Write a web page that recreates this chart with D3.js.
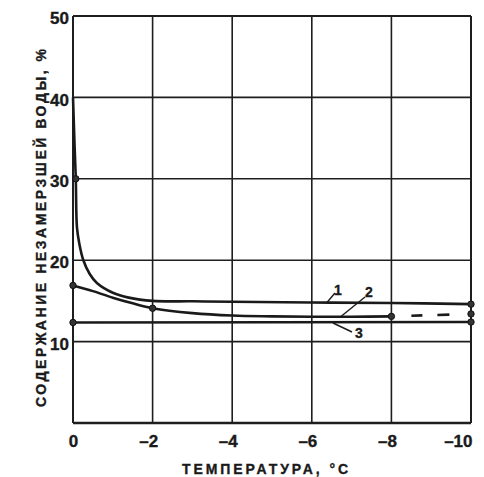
<!DOCTYPE html>
<html>
<head>
<meta charset="utf-8">
<script src="https://cdn.jsdelivr.net/npm/d3@7"></script>
<style>
  html, body { margin: 0; padding: 0; background: #fff; }
  svg { display: block; }
  text { font-family: "Liberation Sans", Arial, "DejaVu Sans", sans-serif; font-weight: bold; fill: #1a1a1a; stroke: #1a1a1a; stroke-width: 0.35px; }
</style>
</head>
<body>
<svg id="chart" width="484" height="477"></svg>
<script>
// Temperature ticks (°C) and water-content ticks (%)
const xTicks = [0, -2, -4, -6, -8, -10];
const yTicks = [10, 20, 30, 40, 50];

// Curve 1
const temp1  = [0, -0.04, -0.07, -0.1, -0.16, -0.26, -0.42, -0.6, -1.0, -1.4, -2, -3, -4, -6, -8, -10];
const water1 = [40, 34, 30, 24, 22, 20, 18.3, 17.2, 16.0, 15.4, 15.0, 14.95, 14.9, 14.8, 14.75, 14.6];
const marks1 = [[-0.07, 30], [-10, 14.6]];

// Curve 2 (solid part, then dashed extension)
const temp2  = [0, -0.5, -1, -1.5, -2, -3, -4, -5, -6, -7, -8];
const water2 = [16.9, 16.2, 15.4, 14.7, 14.1, 13.5, 13.2, 13.1, 13.05, 13.05, 13.1];
const temp2b  = [-8, -10];
const water2b = [13.1, 13.4];
const marks2 = [[0, 16.9], [-2, 14.1], [-8, 13.1], [-10, 13.4]];

// Curve 3
const temp3  = [0, -10];
const water3 = [12.35, 12.4];
const marks3 = [[0, 12.35], [-10, 12.4]];

const svg = d3.select("#chart");
const x = d3.scaleLinear().domain([0, -10]).range([73, 471]);
const y = d3.scaleLinear().domain([0, 50]).range([423, 16]);

// grid
const g = svg.append("g");
g.selectAll("line.v").data(xTicks).join("line")
  .attr("x1", d => x(d)).attr("x2", d => x(d))
  .attr("y1", y(50)).attr("y2", y(0))
  .attr("stroke", "#1e1e1e").attr("stroke-width", d => (d === 0 || d === -10) ? 2 : 1.6);
g.selectAll("line.h").data([0].concat(yTicks)).join("line")
  .attr("x1", x(0)).attr("x2", x(-10))
  .attr("y1", d => y(d)).attr("y2", d => y(d))
  .attr("stroke", "#1e1e1e").attr("stroke-width", d => (d === 0) ? 2.4 : (d === 50 ? 2 : 1.6));

// axes labels via d3 axes (domain/ticks hidden, labels kept)
const yAxis = d3.axisLeft(y).tickValues(yTicks).tickSize(0).tickPadding(0);
svg.append("g").attr("transform", `translate(${x(0) - 4},0)`).call(yAxis)
  .call(a => a.select(".domain").remove())
  .selectAll("text")
  .attr("font-size", 17).attr("font-family", null).attr("dy", "0.45em");

const xAxis = d3.axisBottom(x).tickValues(xTicks).tickSize(0).tickPadding(0)
  .tickFormat(d => d === 0 ? "0" : "\u2013" + Math.abs(d));
svg.append("g").attr("transform", `translate(0,${447})`).call(xAxis)
  .call(a => a.select(".domain").remove())
  .selectAll("text")
  .attr("font-size", 17).attr("font-family", null).attr("dy", 0)
  .attr("text-anchor", d => d === 0 ? "middle" : "end")
  .attr("dx", d => d === 0 ? 0 : (d === -10 ? 1 : 5));
svg.selectAll(".tick text").attr("fill", "#1a1a1a");

// titles
svg.append("text")
  .attr("x", 265).attr("y", 474)
  .attr("text-anchor", "middle")
  .attr("font-size", 14)
  .attr("textLength", 166).attr("lengthAdjust", "spacing")
  .text("ТЕМПЕРАТУРА, °C");

svg.append("text")
  .attr("transform", "translate(46,228) rotate(-90)")
  .attr("text-anchor", "middle")
  .attr("font-size", 14)
  .attr("textLength", 358).attr("lengthAdjust", "spacing")
  .text("СОДЕРЖАНИЕ НЕЗАМЕРЗШЕЙ ВОДЫ, %");

// curves
const line = d3.line().x(d => x(d[0])).y(d => y(d[1])).curve(d3.curveCatmullRom.alpha(0.5));
const zip = (a, b) => a.map((v, i) => [v, b[i]]);

const curves = svg.append("g").attr("fill", "none").attr("stroke", "#1a1a1a").attr("stroke-width", 2.6);
curves.append("path").attr("d", line(zip(temp1, water1)));
curves.append("path").attr("d", line(zip(temp2, water2)));
curves.append("path").attr("d", d3.line().x(d => x(d[0])).y(d => y(d[1]))(zip(temp2b, water2b)))
  .attr("stroke-dasharray", "0,20,11,15,12,100");
curves.append("path").attr("d", d3.line().x(d => x(d[0])).y(d => y(d[1]))(zip(temp3, water3)));

// point markers
svg.append("g").selectAll("circle").data(marks1.concat(marks2, marks3)).join("circle")
  .attr("cx", d => x(d[0])).attr("cy", d => y(d[1])).attr("r", 3.2)
  .attr("fill", "#333").attr("stroke", "#111").attr("stroke-width", 1);

// curve callouts
const callouts = [
  { label: "1", from: [326.7, 302.7], to: [335, 293], tx: 338, ty: 295 },
  { label: "2", from: [340, 317.3], to: [365, 297], tx: 369, ty: 297 },
  { label: "3", from: [333, 323], to: [352, 332], tx: 359, ty: 338 }
];
const co = svg.append("g");
co.selectAll("line").data(callouts).join("line")
  .attr("x1", d => d.from[0]).attr("y1", d => d.from[1])
  .attr("x2", d => d.to[0]).attr("y2", d => d.to[1])
  .attr("stroke", "#1a1a1a").attr("stroke-width", 1.4);
co.selectAll("text").data(callouts).join("text")
  .attr("x", d => d.tx).attr("y", d => d.ty)
  .attr("text-anchor", "middle").attr("font-size", 14)
  .text(d => d.label);
</script>
</body>
</html>
